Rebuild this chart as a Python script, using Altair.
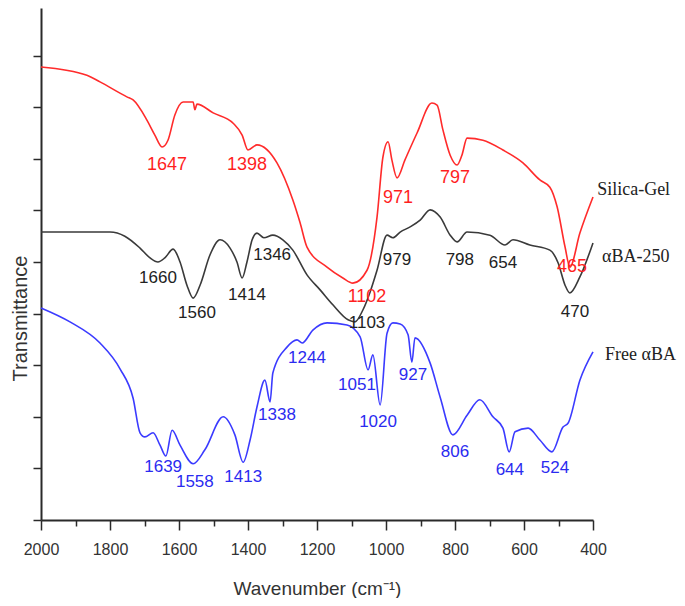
import altair as alt
import pandas as pd

# ---------------- data ----------------
silica_wn = [2000, 1867, 1829, 1751, 1733, 1693, 1670, 1649, 1632, 1612, 1588, 1559, 1554, 1548,
             1501, 1443, 1417, 1400, 1374, 1316, 1270, 1249, 1229, 1171, 1125, 1096, 1055, 1026,
             1009, 994, 983, 968, 945, 910, 867, 852, 835, 814, 794, 780, 765, 719, 661, 603,
             554, 525, 504, 481, 467, 438, 400]
silica_t = [8.78, 8.62, 8.49, 8.20, 8.14, 7.75, 7.46, 7.23, 7.36, 7.85, 8.10, 8.10, 7.95, 8.06,
            7.89, 7.69, 7.46, 7.17, 7.27, 6.92, 6.20, 5.76, 5.29, 4.90, 4.69, 4.59, 4.84, 5.87,
            7.03, 7.33, 6.98, 6.63, 6.98, 7.50, 8.08, 8.04, 7.56, 7.07, 6.88, 7.07, 7.40, 7.36,
            7.17, 6.92, 6.59, 6.45, 6.07, 5.29, 4.90, 5.56, 6.26]

aba250_wn = [2000, 1800, 1757, 1713, 1684, 1661, 1641, 1617, 1597, 1577, 1559, 1539, 1510, 1481,
             1452, 1432, 1417, 1403, 1388, 1374, 1354, 1328, 1299, 1270, 1229, 1191, 1154, 1110,
             1090, 1067, 1046, 1026, 997, 980, 959, 930, 901, 872, 843, 814, 794, 765, 699, 655,
             632, 583, 525, 501, 481, 467, 438, 400]
aba250_t = [5.58, 5.58, 5.50, 5.27, 5.08, 5.00, 5.08, 5.25, 5.00, 4.55, 4.30, 4.55, 5.14, 5.43,
            5.27, 5.00, 4.69, 5.00, 5.43, 5.56, 5.47, 5.52, 5.43, 5.23, 4.75, 4.46, 4.17, 3.88,
            3.84, 4.07, 4.42, 4.84, 5.52, 5.47, 5.58, 5.68, 5.81, 6.01, 5.87, 5.52, 5.39, 5.58,
            5.52, 5.33, 5.43, 5.33, 5.23, 4.98, 4.55, 4.40, 4.71, 5.37]

free_wn = [2000, 1916, 1829, 1771, 1733, 1713, 1699, 1675, 1655, 1638, 1620, 1597, 1559, 1525,
           1472, 1438, 1414, 1394, 1374, 1351, 1336, 1328, 1287, 1258, 1243, 1212, 1171, 1113,
           1075, 1052, 1038, 1017, 997, 980, 959, 936, 925, 916, 872, 843, 806, 765, 728, 690,
           661, 643, 626, 588, 554, 519, 487, 472, 438, 400]
free_t = [4.11, 3.84, 3.43, 2.93, 2.36, 1.69, 1.61, 1.69, 1.45, 1.24, 1.74, 1.45, 1.09, 1.36,
          2.00, 1.65, 1.12, 1.55, 2.19, 2.71, 2.29, 2.85, 3.35, 3.49, 3.43, 3.68, 3.82, 3.78,
          3.55, 2.91, 3.20, 2.23, 3.62, 3.82, 3.80, 3.59, 3.06, 3.53, 3.04, 2.38, 1.65, 2.03,
          2.33, 2.00, 1.78, 1.32, 1.71, 1.78, 1.55, 1.32, 1.80, 1.88, 2.71, 3.26]

# peak annotations
silica_lab = ["1647", "1398", "1102", "971", "797", "465"]
silica_lab_wn = [1635, 1403, 1055, 965, 800, 461]
silica_lab_t = [6.88, 6.88, 4.32, 6.24, 6.63, 4.90]

aba250_lab = ["1660", "1560", "1414", "1346", "1103", "979", "798", "654", "470"]
aba250_lab_wn = [1661, 1548, 1403, 1330, 1055, 968, 786, 661, 452]
aba250_lab_t = [4.69, 4.01, 4.36, 5.14, 3.82, 5.04, 5.04, 4.98, 4.03]

free_lab = ["1639", "1558", "1413", "1338", "1244", "1051", "1020", "927", "806", "644", "524"]
free_lab_wn = [1646, 1554, 1414, 1316, 1229, 1084, 1023, 922, 800, 641, 510]
free_lab_t = [1.03, 0.74, 0.83, 2.03, 3.14, 2.62, 1.90, 2.81, 1.32, 0.97, 1.01]

series_names = ["Silica-Gel", "\u03b1BA-250", "Free \u03b1BA"]
series_name_wn = [388, 374, 365]
series_name_t = [6.40, 5.10, 3.20]

# ---------------- styling ----------------
W, H = 552, 512
Y_MAX = 10 * H / 516
RED, BLACK, BLUE = "#ff2b2b", "#3a3a3a", "#3b3bff"
AX = "#2a2a2a"

xscale = alt.Scale(domain=[400, 2000], reverse=True, nice=False, zero=False)
yscale = alt.Scale(domain=[0, Y_MAX], nice=False, zero=False)

yaxis = alt.Axis(values=list(range(0, 10)), labels=False, grid=False, tickSize=8,
                 tickWidth=1.5, tickColor=AX, domainColor=AX, domainWidth=2,
                 title="Transmittance", titleFont="Liberation Sans", titleFontSize=20,
                 titleFontWeight="normal", titleColor="#333", titleAngle=270,
                 titleX=-21, titleY=310, titleAlign="center", titleBaseline="middle")

major_axis = alt.Axis(values=list(range(400, 2001, 200)), orient="bottom", grid=False,
                      tickSize=10, tickWidth=1.5, tickColor=AX, domainColor=AX, domainWidth=2,
                      labelFont="Liberation Sans", labelFontSize=16, labelColor="#333",
                      labelPadding=11, format="d", labelFlush=False, labelOverlap=False,
                      title="Wavenumber (cm\u207b\u00b9)", titleFont="Liberation Sans",
                      titleFontSize=19, titleFontWeight="normal", titleColor="#333",
                      titleY=68, titleBaseline="middle")
minor_axis = alt.Axis(values=list(range(500, 2000, 200)), orient="bottom", grid=False,
                      labels=False, domain=False, tickSize=6, tickWidth=1.5, tickColor=AX,
                      title="")

def line_df(wn, t):
    return pd.DataFrame({"wn": wn, "t": t})

def lab_df(lab, wn, t):
    return pd.DataFrame({"lab": lab, "wn": wn, "t": t})

def line(df, color, xaxis):
    return alt.Chart(df).mark_line(color=color, strokeWidth=1.6, interpolate="monotone").encode(
        x=alt.X("wn:Q", scale=xscale, axis=xaxis),
        y=alt.Y("t:Q", scale=yscale, axis=yaxis),
    )

def labels(df, color, size, font="Liberation Sans", align="center"):
    return alt.Chart(df).mark_text(color=color, fontSize=size, font=font, align=align,
                                   baseline="middle").encode(
        x=alt.X("wn:Q", scale=xscale, axis=None),
        y=alt.Y("t:Q", scale=yscale, axis=yaxis),
        text="lab:N",
    )

red_line = line(line_df(silica_wn, silica_t), RED, major_axis)
black_line = line(line_df(aba250_wn, aba250_t), BLACK, minor_axis)
blue_line = line(line_df(free_wn, free_t), BLUE, None)

red_lab = labels(lab_df(silica_lab, silica_lab_wn, silica_lab_t), "#ff1f1f", 18)
black_lab = labels(lab_df(aba250_lab, aba250_lab_wn, aba250_lab_t), "#222222", 17)
blue_lab = labels(lab_df(free_lab, free_lab_wn, free_lab_t), "#2b2bf0", 17)
names = labels(lab_df(series_names, series_name_wn, series_name_t), "#222222", 18,
               font="Liberation Serif", align="left")

chart = alt.layer(red_line, black_line, blue_line, red_lab, black_lab, blue_lab, names).resolve_axis(
    x="independent"
).properties(
    width=W, height=H,
    autosize=alt.AutoSizeParams(type="none"),
    padding={"left": 33, "top": 0, "right": 84, "bottom": 78},
    background="white",
).configure_view(stroke=None)

chart.save("out.html", embed_options={"renderer": "svg", "actions": False})
